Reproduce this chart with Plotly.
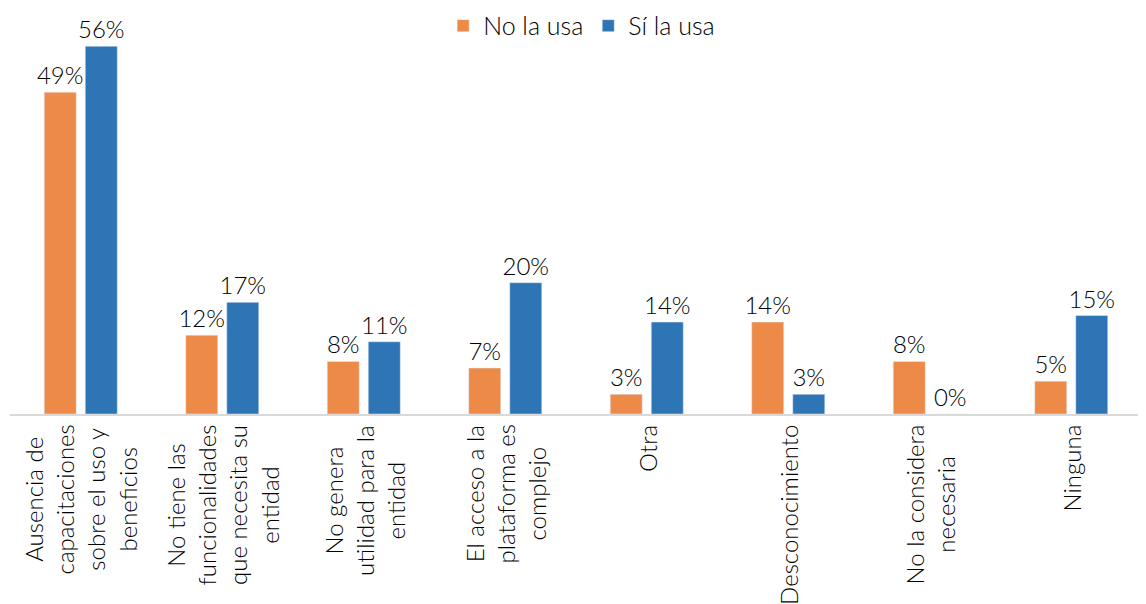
import plotly.graph_objects as go

categories = [
    "Ausencia de<br>capacitaciones<br>sobre el uso y<br>beneficios",
    "No tiene las<br>funcionalidades<br>que necesita su<br>entidad",
    "No genera<br>utilidad para la<br>entidad",
    "El acceso a la<br>plataforma es<br>complejo",
    "Otra",
    "Desconocimiento",
    "No la considera<br>necesaria",
    "Ninguna",
]
no_la_usa = [49, 12, 8, 7, 3, 14, 8, 5]
si_la_usa = [56, 17, 11, 20, 14, 3, 0, 15]

FONT = "Lato"
ORANGE = "#ED8A47"
BLUE = "#2E75B6"
LBL = dict(size=24, color="black", family=FONT, weight=300)
CAT = dict(size=24, color="black", family=FONT, weight=300)
LEG = dict(size=25, color="black", family=FONT, weight=300)

fig = go.Figure()
fig.add_trace(go.Bar(
    name="No la usa", x=categories, y=no_la_usa, marker_color=ORANGE,
    text=[f"{v}%" for v in no_la_usa], textposition="outside", constraintext="none",
    textfont=LBL, cliponaxis=False,
))
fig.add_trace(go.Bar(
    name="Sí la usa", x=categories, y=si_la_usa, marker_color=BLUE,
    text=[f"{v}%" for v in si_la_usa], textposition="outside", constraintext="none",
    textfont=LBL, cliponaxis=False,
))

for c in categories:
    fig.add_annotation(
        x=c, y=-0.022, xref="x", yref="paper", text=c, textangle=-90,
        showarrow=False, xanchor="center", yanchor="top", align="center",
        font=CAT,
    )

fig.update_layout(
    width=1146, height=604,
    margin=dict(l=2, r=12, t=12, b=198, autoexpand=False),
    paper_bgcolor="white", plot_bgcolor="white",
    barmode="group", bargap=0.42, bargroupgap=0.22,
    font=dict(family=FONT, size=24, color="black", weight=300),
    legend=dict(orientation="h", x=0.505, xanchor="center", y=0.985, yanchor="middle",
                font=LEG, bgcolor="rgba(0,0,0,0)", itemwidth=30),
    showlegend=True,
)
fig.update_xaxes(showticklabels=False, showline=True, linecolor="#d9d9d9", linewidth=2,
                 ticks="", showgrid=False)
fig.update_yaxes(range=[0, 60], visible=False, showgrid=False)

fig.write_html("out.html")
